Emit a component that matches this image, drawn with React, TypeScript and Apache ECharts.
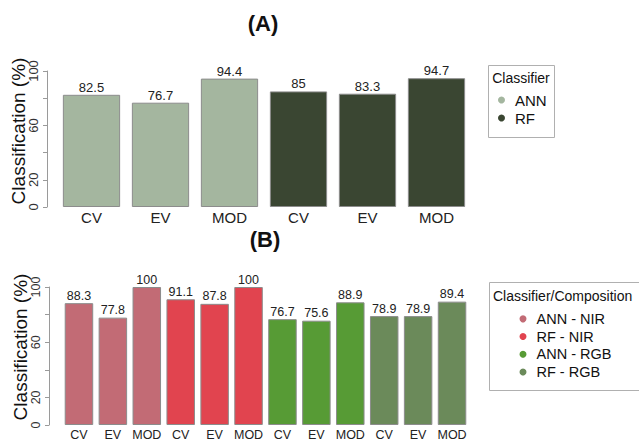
import React, { useEffect, useRef } from "react";
import * as echarts from "echarts";

// Panel A: classifier accuracy
const categoriesA = ["CV", "EV", "MOD", "CV", "EV", "MOD"];
const annA = [82.5, 76.7, 94.4];
const rfA = [85, 83.3, 94.7];
const groupsA = ["ANN", "RF"];
const colorsA = ["#a4b69f", "#3a4632"];

// Panel B: classifier / image composition
const categoriesB = ["CV", "EV", "MOD", "CV", "EV", "MOD", "CV", "EV", "MOD", "CV", "EV", "MOD"];
const annNir = [88.3, 77.8, 100];
const rfNir = [91.1, 87.8, 100];
const annRgb = [76.7, 75.6, 88.9];
const rfRgb = [78.9, 78.9, 89.4];
const groupsB = ["ANN - NIR", "RF - NIR", "ANN - RGB", "RF - RGB"];
const colorsB = ["#c26b75", "#e1444f", "#579b35", "#6b8a5a"];

const yTicks = [0, 20, 40, 60, 80, 100];
const yShown = [0, 20, 60, 100];

const FONT = "'Liberation Sans', Arial, sans-serif";

// place each group's values in its own slots along the category axis
function padGroup(values: number[], groupIndex: number, groupCount: number) {
  const out: (number | null)[] = new Array(values.length * groupCount).fill(null);
  values.forEach((v, i) => {
    out[groupIndex * values.length + i] = v;
  });
  return out;
}

export default function App() {
  const ref = useRef<HTMLDivElement>(null);

  useEffect(() => {
    document.body.style.margin = "0";
    if (!ref.current) return;
    const chart = echarts.init(ref.current, null, { renderer: "svg" });

    const valuesA = [annA, rfA];
    const valuesB = [annNir, rfNir, annRgb, rfRgb];

    const yAxisBase = (gridIndex: number, offset: number, fontSize: number) => ({
      type: "value" as const,
      gridIndex,
      min: 0,
      max: 100,
      interval: 20,
      offset,
      splitLine: { show: false },
      axisLine: { show: true, lineStyle: { color: "#9a9a9a", width: 1 } },
      axisTick: { show: true, length: 4, lineStyle: { color: "#9a9a9a" } },
      axisLabel: {
        rotate: 90,
        margin: 7,
        color: "#333",
        fontSize,
        fontFamily: FONT,
        formatter: (v: number) => (yShown.includes(v) && yTicks.includes(v) ? String(v) : ""),
      },
    });

    const xAxisBase = (gridIndex: number, data: string[], fontSize: number, margin: number) => ({
      type: "category" as const,
      gridIndex,
      data,
      axisLine: { show: false },
      axisTick: { show: false },
      axisLabel: { color: "#222", fontSize, fontFamily: FONT, margin, interval: 0 },
    });

    const barSeries = (
      name: string,
      idx: number,
      data: (number | null)[],
      color: string,
      stack: string,
      catGap: string,
      fontSize: number
    ) => ({
      type: "bar" as const,
      name,
      xAxisIndex: idx,
      yAxisIndex: idx,
      stack,
      data,
      barCategoryGap: catGap,
      itemStyle: { color, borderColor: "#8c8c8c", borderWidth: 1 },
      label: {
        show: true,
        position: "top" as const,
        distance: 1,
        color: "#222",
        fontSize,
        fontFamily: FONT,
      },
    });

    const series = [
      ...groupsA.map((g, i) =>
        barSeries(g, 0, padGroup(valuesA[i], i, groupsA.length), colorsA[i], "a", "17%", 13)
      ),
      ...groupsB.map((g, i) =>
        barSeries(g, 1, padGroup(valuesB[i], i, groupsB.length), colorsB[i], "b", "16%", 12.5)
      ),
    ];

    const legendBase = {
      orient: "vertical" as const,
      icon: "circle",
      itemWidth: 7,
      itemHeight: 7,
      itemGap: 0,
      padding: 0,
      selectedMode: false,
      itemStyle: { borderWidth: 0 },
    };

    chart.setOption({
      animation: false,
      grid: [
        { left: 57, top: 71, width: 414, height: 136 },
        { left: 62, top: 287, width: 407, height: 138 },
      ],
      xAxis: [xAxisBase(0, categoriesA, 15, 3), xAxisBase(1, categoriesB, 12.5, 3)],
      yAxis: [yAxisBase(0, 10, 13), yAxisBase(1, 13, 12.5)],
      legend: [
        {
          ...legendBase,
          data: groupsA,
          left: 498,
          top: 91,
          textStyle: { fontSize: 15, fontFamily: FONT, color: "#111", lineHeight: 18, padding: [0, 0, 0, 5] },
        },
        {
          ...legendBase,
          data: groupsB,
          left: 519.5,
          top: 310,
          textStyle: { fontSize: 14.5, fontFamily: FONT, color: "#111", lineHeight: 17.7, padding: [0, 0, 0, 5] },
        },
      ],
      graphic: [
        {
          type: "text",
          x: 263,
          y: 23,
          style: { text: "(A)", fontSize: 22, fontWeight: "bold", fontFamily: FONT, fill: "#111", align: "center", verticalAlign: "middle" },
        },
        {
          type: "text",
          x: 265,
          y: 239,
          style: { text: "(B)", fontSize: 22, fontWeight: "bold", fontFamily: FONT, fill: "#111", align: "center", verticalAlign: "middle" },
        },
        {
          type: "text",
          x: 18.5,
          y: 131,
          rotation: Math.PI / 2,
          style: { text: "Classification (%)", fontSize: 19, fontFamily: FONT, fill: "#111", align: "center", verticalAlign: "middle" },
        },
        {
          type: "text",
          x: 20,
          y: 347,
          rotation: Math.PI / 2,
          style: { text: "Classification (%)", fontSize: 19, fontFamily: FONT, fill: "#111", align: "center", verticalAlign: "middle" },
        },
        {
          type: "rect",
          shape: { x: 488.5, y: 65.5, width: 66, height: 72 },
          style: { fill: "#fff", stroke: "#b0b0b0", lineWidth: 1 },
          z: -1,
        },
        {
          type: "text",
          x: 521,
          y: 78,
          style: { text: "Classifier", fontSize: 14, fontFamily: FONT, fill: "#111", align: "center", verticalAlign: "middle" },
        },
        {
          type: "rect",
          shape: { x: 489.5, y: 282.5, width: 152, height: 108 },
          style: { fill: "#fff", stroke: "#b0b0b0", lineWidth: 1 },
          z: -1,
        },
        {
          type: "text",
          x: 493,
          y: 296,
          style: { text: "Classifier/Composition", fontSize: 14, fontFamily: FONT, fill: "#111", align: "left", verticalAlign: "middle" },
        },
      ],
      series,
    });

    return () => chart.dispose();
  }, []);

  return <div ref={ref} style={{ width: 639, height: 442 }} />;
}
